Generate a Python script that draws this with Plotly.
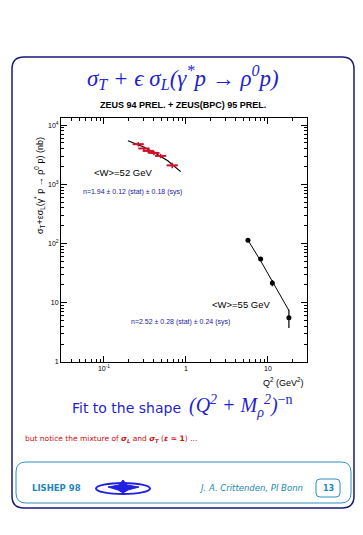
import plotly.graph_objects as go

# ---- data ----
q2_w52 = [0.262, 0.307, 0.347, 0.407, 0.491, 0.68]
sig_w52 = [4760, 4030, 3665, 3390, 3020, 2090]
err_w52 = [420, 330, 300, 280, 260, 230]

fit_q2_w52 = [0.196, 0.3, 0.4, 0.6, 0.861]
fit_sig_w52 = [5450, 4300, 3500, 2500, 1640]

q2_w55 = [5.7, 8.15, 11.3, 18.0]
sig_w55 = [114, 55, 21.6, 5.6]
errp_w55 = [6, 3, 2.6, 2.0]
errm_w55 = [6, 3, 2.6, 1.85]

fit_q2_w55 = [5.7, 8.15, 11.3, 18.0]
fit_sig_w55 = [114, 51, 23, 7.4]

x_tickvals = [0.1, 1, 10]
x_ticktext = ["10<sup>-1</sup>", "1", "10"]
y_tickvals = [1, 10, 100, 1000, 10000]
y_ticktext = ["1", "10", "10<sup>2</sup>", "10<sup>3</sup>", "10<sup>4</sup>"]

OFF = 8  # default page margin of the html body
W, H = 363 - OFF, 535 - OFF
PL, PR, PT, PB = 61, 307, 118, 362  # plot area in page pixels


def px(x):
    return (x - PL) / (PR - PL)


def py(y):
    return (PB - y) / (PB - PT)


fig = go.Figure()

fig.add_trace(go.Scatter(x=fit_q2_w52, y=fit_sig_w52, mode="lines",
                         line=dict(color="black", width=1.2), showlegend=False))
fig.add_trace(go.Scatter(x=q2_w52, y=sig_w52, mode="markers",
                         marker=dict(symbol="line-ew", size=8, color="#d0102a",
                                     line=dict(color="#d0102a", width=2)),
                         error_y=dict(type="data", array=err_w52, color="#d0102a",
                                      thickness=1.5, width=0),
                         showlegend=False))
fig.add_trace(go.Scatter(x=fit_q2_w55, y=fit_sig_w55, mode="lines",
                         line=dict(color="black", width=1), showlegend=False))
fig.add_trace(go.Scatter(x=q2_w55, y=sig_w55, mode="markers",
                         marker=dict(symbol="circle", size=5, color="black"),
                         error_y=dict(type="data", array=errp_w55, arrayminus=errm_w55,
                                      color="black", thickness=1.2, width=0),
                         showlegend=False))

axis_common = dict(type="log", showgrid=False, zeroline=False, showline=True,
                   linecolor="black", linewidth=1, mirror="ticks", ticks="inside",
                   ticklen=6, tickcolor="black",
                   minor=dict(ticks="inside", ticklen=3, tickcolor="black", dtick="D1",
                              showgrid=False),
                   tickfont=dict(family="Liberation Sans, Arial", size=7, color="black"))

fig.update_xaxes(range=[-1.524, 1.476], tickvals=x_tickvals, ticktext=x_ticktext,
                 **axis_common)
fig.update_yaxes(range=[0, 4.12], tickvals=y_tickvals, ticktext=y_ticktext,
                 **axis_common)

blue = "#1f1fd0"
ann = []


def add_text(x, y, text, size, color="black", family="Liberation Sans, Arial",
             xanchor="center", angle=0):
    ann.append(dict(x=px(x), y=py(y), xref="paper", yref="paper", text=text,
                    showarrow=False, xanchor=xanchor, yanchor="middle",
                    textangle=angle,
                    font=dict(size=size, color=color, family=family)))


add_text(183, 77, "<i>σ<sub>T</sub> + ϵ σ<sub>L</sub>(γ<sup>*</sup>p → ρ<sup>0</sup>p)</i>",
         23, blue, "Liberation Serif, Times New Roman")
add_text(183, 105, "<b>ZEUS 94 PREL. + ZEUS(BPC) 95 PREL.</b>", 9)
add_text(39, 186, "σ<sub>T</sub>+εσ<sub>L</sub>(γ<sup>*</sup> p → ρ<sup>0</sup> p) (nb)", 9,
         angle=-90)
add_text(92, 172, "<W>=52 GeV", 9.5, xanchor="left")
add_text(81, 192, "n=1.94 ± 0.12 (stat) ± 0.18 (sys)", 7, "#1a1aa0", xanchor="left")
add_text(210, 304, "<W>=55 GeV", 9.5, xanchor="left")
add_text(129, 322, "n=2.52 ± 0.28 (stat) ± 0.24 (sys)", 7, "#1a1aa0", xanchor="left")
add_text(306, 382, "Q<sup>2</sup> (GeV<sup>2</sup>)", 9, xanchor="right")

add_text(70, 408, "Fit to the shape", 14, blue, "DejaVu Sans", xanchor="left")
add_text(187, 406, "<i>(Q<sup>2</sup> + M<sub>ρ</sub><sup>2</sup>)</i><sup>−n</sup>", 20, blue,
         "Liberation Serif, Times New Roman", xanchor="left")
add_text(23, 439,
         "but notice the mixture of <b><i>σ<sub>L</sub></i></b> and <b><i>σ<sub>T</sub></i></b> (<b><i>ε</i> ≈ 1</b>) ...",
         7.5, "#d01010", "DejaVu Sans", xanchor="left")

add_text(30, 488, "<b>LISHEP 98</b>", 8.5, "#2088b8", "DejaVu Sans", xanchor="left")
add_text(305, 488, "<i>J. A. Crittenden, PI Bonn</i>", 8.5, "#2088b8", "DejaVu Sans",
         xanchor="right")
add_text(328, 488, "<b>13</b>", 8, "#2088b8", "DejaVu Sans")

fig.update_layout(annotations=ann)


def rrect(x0, y0, x1, y1, r, color, width):
    X0, X1 = px(x0), px(x1)
    Y0, Y1 = py(y0), py(y1)
    rx = r / (PR - PL)
    ry = r / (PB - PT)
    path = (f"M {X0 + rx},{Y0} L {X1 - rx},{Y0} Q {X1},{Y0} {X1},{Y0 - ry} "
            f"L {X1},{Y1 + ry} Q {X1},{Y1} {X1 - rx},{Y1} "
            f"L {X0 + rx},{Y1} Q {X0},{Y1} {X0},{Y1 + ry} "
            f"L {X0},{Y0 - ry} Q {X0},{Y0} {X0 + rx},{Y0} Z")
    return dict(type="path", path=path, xref="paper", yref="paper",
                line=dict(color=color, width=width), layer="below")


shapes = [
    rrect(12, 57, 354, 508, 12, "#1a1a7a", 1.5),
    rrect(16, 462, 351, 503, 10, "#3090c0", 1),
    rrect(316, 479, 340, 497, 4, "#3090c0", 1),
    dict(type="circle", xref="paper", yref="paper",
         x0=px(96), x1=px(150), y0=py(483), y1=py(494),
         line=dict(color="#2020e0", width=2)),
    dict(type="path", xref="paper", yref="paper",
         path=(f"M {px(108)},{py(487)} L {px(119)},{py(485)} L {px(123)},{py(480)} "
               f"L {px(127)},{py(485)} L {px(139)},{py(487)} L {px(128)},{py(490)} "
               f"L {px(123)},{py(493)} L {px(118)},{py(490)} Z"),
         fillcolor="#2020e0", line=dict(color="#2020e0", width=1)),
]
fig.update_layout(shapes=shapes)

fig.update_layout(width=W, height=H, autosize=False,
                  margin=dict(l=PL - OFF, r=363 - PR, t=PT - OFF, b=535 - PB),
                  paper_bgcolor="white", plot_bgcolor="white")

fig.write_html("out.html")
